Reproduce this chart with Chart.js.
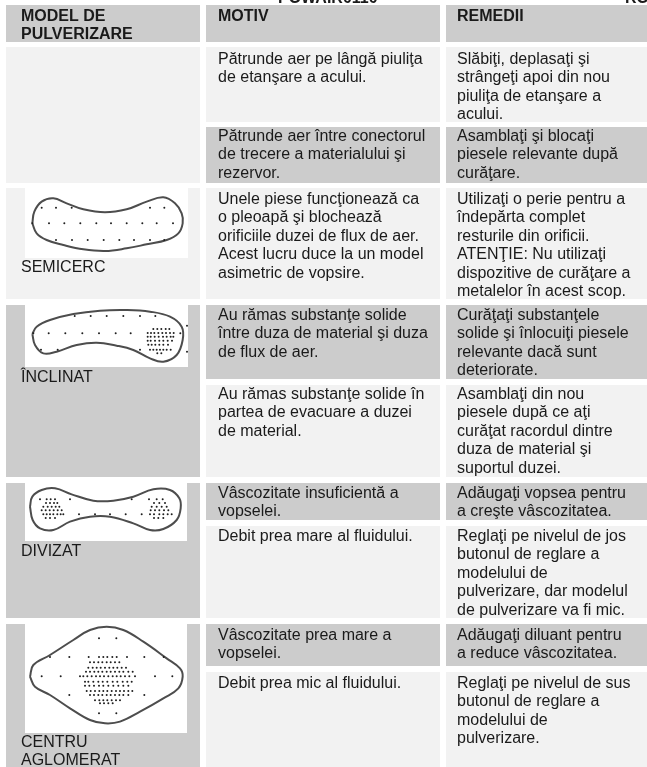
<!DOCTYPE html>
<html lang="ro">
<head>
<meta charset="utf-8">
<title>Model de pulverizare</title>
<script src="https://cdn.jsdelivr.net/npm/chart.js@4/dist/chart.umd.min.js"></script>
<style>
html,body{margin:0;padding:0;background:#fff;overflow:hidden}
#wrap{position:relative;width:647px;height:767px}
canvas{display:block}
</style>
</head>
<body>
<div id="wrap"><canvas id="c" width="647" height="767"></canvas></div>
<script>
// ---------- table text ----------
const pageHeader = ["POWAIR0110", "RO"];
const columnTitles = [["MODEL DE", "PULVERIZARE"], ["MOTIV"], ["REMEDII"]];
const patternNames = [["SEMICERC"], ["ÎNCLINAT"], ["DIVIZAT"], ["CENTRU", "AGLOMERAT"]];
const reasons = [
  ["Pătrunde aer pe lângă piuliţa", "de etanşare a acului."],
  ["Pătrunde aer între conectorul", "de trecere a materialului şi", "rezervor."],
  ["Unele piese funcţionează ca", "o pleoapă şi blochează", "orificiile duzei de flux de aer.", "Acest lucru duce la un model", "asimetric de vopsire."],
  ["Au rămas substanţe solide", "între duza de material şi duza", "de flux de aer."],
  ["Au rămas substanţe solide în", "partea de evacuare a duzei", "de material."],
  ["Vâscozitate insuficientă a", "vopselei."],
  ["Debit prea mare al fluidului."],
  ["Vâscozitate prea mare a", "vopselei."],
  ["Debit prea mic al fluidului."]
];
const remedies = [
  ["Slăbiţi, deplasaţi şi", "strângeţi apoi din nou", "piuliţa de etanşare a", "acului."],
  ["Asamblaţi şi blocaţi", "piesele relevante după", "curăţare."],
  ["Utilizaţi o perie pentru a", "îndepărta complet", "resturile din orificii.", "ATENŢIE: Nu utilizaţi", "dispozitive de curăţare a", "metalelor în acest scop."],
  ["Curăţaţi substanţele", "solide şi înlocuiţi piesele", "relevante dacă sunt", "deteriorate."],
  ["Asamblaţi din nou", "piesele după ce aţi", "curăţat racordul dintre", "duza de material şi", "suportul duzei."],
  ["Adăugaţi vopsea pentru", "a creşte vâscozitatea."],
  ["Reglaţi pe nivelul de jos", "butonul de reglare a", "modelului de", "pulverizare, dar modelul", "de pulverizare va fi mic."],
  ["Adăugaţi diluant pentru", "a reduce vâscozitatea."],
  ["Reglaţi pe nivelul de sus", "butonul de reglare a", "modelului de", "pulverizare."]
];

// ---------- table grid, in the 647 x 767 units of the axes ----------
const columnEdges = [[6, 200], [206, 440], [446, 647]];
const headerRow = [5, 42];
const rowEdges = [[47, 122], [127, 183], [188, 299], [305, 379], [385, 477], [483, 520], [526, 618], [624, 666], [672, 767]];
const rowShades = ["l", "d", "l", "d", "l", "d", "l", "d", "l"];
const patternCells = [[47, 183, "l"], [188, 299, "l"], [305, 477, "d"], [483, 618, "d"], [624, 767, "d"]];
const photoBoxes = [[25, 188, 188, 258], [25, 188, 305, 367], [25, 187, 483, 541], [25, 187, 624, 733]];

// first text baseline for each row, and for labels
const rowBaselines = [64, 141, 204, 320, 399, 498, 541, 640, 688];
const labelBaselines = [272, 382, 556, 747];

// ---------- spray patterns, read at 3x; yBase is the crop origin ----------
const semicercOutline = [[97,130],[103,95],[125,65],[160,55],[200,70],[250,88],[315,97],[380,88],[440,65],[490,52],[525,70],[545,100],[548,130],[535,160],[500,180],[440,193],[380,205],[315,213],[250,208],[190,195],[140,180],[110,160],[97,130]];
const semicercDots = [
  [83, [125,168,215,450,493]],
  [130,[97,147,193,241,289,333,380,427,470,519]],
  [180,[168,216,263,311,358,402,450,493]]
];
const inclinatOutline = [[97,462],[110,440],[150,420],[220,402],[300,392],[380,390],[450,395],[510,410],[545,440],[548,480],[530,525],[490,545],[450,535],[400,510],[350,497],[290,488],[230,495],[170,515],[130,520],[105,495],[97,462]];
const inclinatDots = [
  [408,[224,272,320,370,420,466]],
  [437,[561]],
  [447,[460,472,484,497,508]],
  [460,[100,146,196,247,297,347,392,541]],
  [459,[443,453,463,475,487,498,510,521]],
  [470,[443,452,464,476,489,500,512,520]],
  [482,[443,452,465,478,490,503,516]],
  [494,[445,455,466,478,490,504]],
  [509,[123,173,420,450,460,470,480,490,500,512]],
  [515,[561]],
  [520,[472,484]]
];
const divizatOutline = [[90,185],[97,155],[125,135],[165,130],[215,148],[280,167],[340,167],[400,155],[460,133],[510,135],[538,160],[542,190],[530,225],[490,252],[450,255],[400,235],[330,215],[270,215],[210,230],[160,255],[120,250],[98,225],[90,185]];
const divizatDots = [
  [163,[120,140,152,165,210,395,447,470,488]],
  [174,[138,150,162,172,462,478,495]],
  [185,[130,143,155,167,178,455,470,485,500]],
  [196,[125,137,149,161,173,185,452,465,478,492,505]],
  [208,[130,140,150,160,172,182,190,237,285,330,377,425,450,462,478,490,503,515]],
  [219,[137,150,165,462,475,490]]
];
const centruOutline = [[90,695],[100,660],[150,630],[220,585],[270,555],[320,545],[370,555],[430,590],[500,640],[540,670],[548,695],[535,730],[490,760],[420,800],[360,830],[315,835],[270,825],[210,790],[150,750],[105,725],[90,695]];
const centruDots = [
  [580,[297,349]],
  [636,[150,208,266,297,310,322,337,350,381,433,491]],
  [652,[270,282,295,307,320,332,345,358]],
  [668,[265,278,290,302,315,328,340,352,365,378]],
  [680,[258,270,283,295,307,320,332,345,358,370,385,398]],
  [694,[125,182,240,250,262,275,288,300,312,325,338,350,362,375,388,405,465,517]],
  [710,[255,265,280,295,308,322,338,352,368,382,395]],
  [722,[255,268,282,297,310,325,340,355,370,385]],
  [738,[260,272,285,298,310,322,335,348,360,372,385,397]],
  [750,[208,270,282,295,307,320,332,345,358,370,385,433]],
  [766,[285,298,310,322,335,348,360]],
  [775,[300,312,325,338]],
  [805,[297,349]]
];
const patterns = [
  {outline: semicercOutline, dots: semicercDots, yBase: 180},
  {outline: inclinatOutline, dots: inclinatDots, yBase: 180},
  {outline: divizatOutline,  dots: divizatDots,  yBase: 445},
  {outline: centruOutline,   dots: centruDots,   yBase: 445}
];

// ---------- styles ----------
const LIGHT = "#f2f2f2", DARK = "#cccccc", INK = "#1a1a1a";
const FONT = '"Liberation Sans", Arial, sans-serif';
const BODY_SIZE = 16, LINE_STEP = 18.4;

// ---------- datasets (listed bottom layer first, reversed for Chart.js) ----------
function rect(x0, x1, y0, y1, color) {
  return {
    type: "line", data: [{x:x0,y:y0},{x:x1,y:y0},{x:x1,y:y1},{x:x0,y:y1}],
    fill: "shape", backgroundColor: color, borderWidth: 0, pointRadius: 0, tension: 0
  };
}
const layers = [];
columnEdges.forEach(c => layers.push(rect(c[0], c[1], headerRow[0], headerRow[1], DARK)));
patternCells.forEach(p => layers.push(rect(columnEdges[0][0], columnEdges[0][1], p[0], p[1], p[2] === "l" ? LIGHT : DARK)));
rowEdges.forEach((r, i) => {
  const color = rowShades[i] === "l" ? LIGHT : DARK;
  layers.push(rect(columnEdges[1][0], columnEdges[1][1], r[0], r[1], color));
  layers.push(rect(columnEdges[2][0], columnEdges[2][1], r[0], r[1], color));
});
photoBoxes.forEach(b => layers.push(rect(b[0], b[1], b[2], b[3], "#ffffff")));
patterns.forEach(p => {
  layers.push({
    type: "line",
    data: p.outline.map(q => ({x: q[0] / 3, y: p.yBase + q[1] / 3})),
    fill: false, borderColor: "#4d4d4d", borderWidth: 2, pointRadius: 0, tension: 0.4
  });
  const pts = [];
  p.dots.forEach(row => row[1].forEach(x => pts.push({x: x / 3, y: p.yBase + row[0] / 3})));
  layers.push({
    type: "scatter", data: pts, showLine: false,
    backgroundColor: "#1f1f1f", borderWidth: 0, pointRadius: 1, pointStyle: "circle"
  });
});

// ---------- text, positioned through the same scales ----------
const tableText = {
  id: "tableText",
  afterDatasetsDraw(chart) {
    const {ctx, scales: {x, y}} = chart;
    const put = (lines, xv, base, font) => {
      ctx.font = font;
      lines.forEach((t, i) => ctx.fillText(t, x.getPixelForValue(xv), y.getPixelForValue(base + i * LINE_STEP)));
    };
    ctx.save();
    ctx.fillStyle = INK;
    ctx.textBaseline = "alphabetic";
    ctx.textAlign = "left";
    const bold = "bold " + BODY_SIZE + "px " + FONT;
    const normal = BODY_SIZE + "px " + FONT;
    put([pageHeader[0]], 278, 3, bold);
    put([pageHeader[1]], 625, 3, bold);
    put(columnTitles[0], 21, 21, bold);
    put(columnTitles[1], 218, 21, bold);
    put(columnTitles[2], 457, 21, bold);
    reasons.forEach((l, i) => put(l, 218, rowBaselines[i], normal));
    remedies.forEach((l, i) => put(l, 457, rowBaselines[i], normal));
    patternNames.forEach((l, i) => put(l, 21, labelBaselines[i], normal));
    ctx.restore();
  }
};

new Chart(document.getElementById("c"), {
  type: "scatter",
  data: {datasets: layers.slice().reverse()},
  plugins: [tableText],
  options: {
    responsive: false,
    animation: false,
    layout: {padding: 0, autoPadding: false},
    events: [],
    plugins: {legend: {display: false}, tooltip: {enabled: false}, title: {display: false}},
    scales: {
      x: {type: "linear", min: 0, max: 647, display: false},
      y: {type: "linear", min: 0, max: 767, reverse: true, display: false}
    }
  }
});
</script>
</body>
</html>
